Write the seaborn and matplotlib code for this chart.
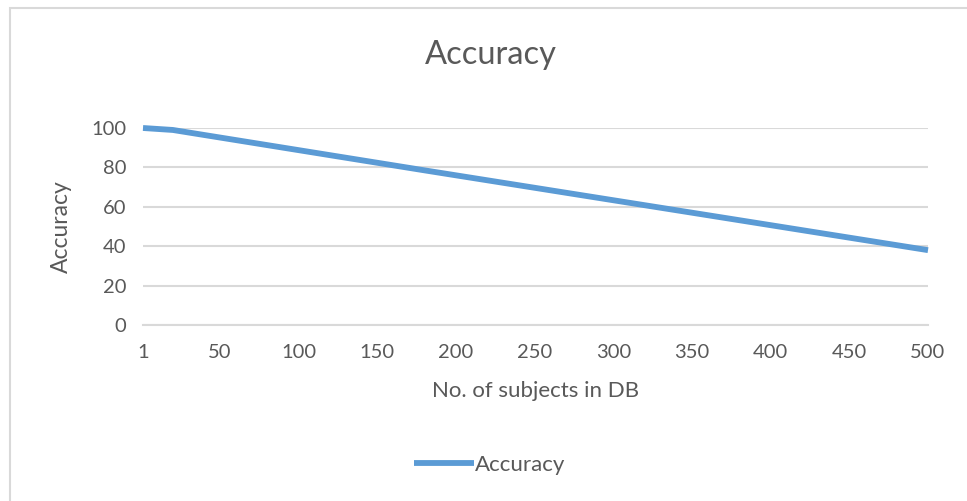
import numpy as np
import pandas as pd
import seaborn as sns
import matplotlib.pyplot as plt
from matplotlib.patches import Rectangle

# data
subjects = [1, 20, 180, 350, 500]
accuracy = [100, 99, 78.5, 57, 38]
x_ticks = [1, 50, 100, 150, 200, 250, 300, 350, 400, 450, 500]
y_ticks = [0, 20, 40, 60, 80, 100]

df = pd.DataFrame({"subjects": subjects, "Accuracy": accuracy})

sns.set_style("white")
plt.rcParams['font.family'] = ['Lato', 'DejaVu Sans']

text_col = "#595959"
grid_col = "#D9D9D9"
line_col = "#5B9BD5"

fig = plt.figure(figsize=(9.67, 5.01), dpi=100)
ax = fig.add_axes([143 / 967, 176 / 501, 785 / 967, 197 / 501])

# chart frame
fig.patches.append(Rectangle((10 / 967, -0.01), 1.0, (493 / 501) + 0.01,
                             transform=fig.transFigure, fill=False,
                             edgecolor=grid_col, linewidth=1.5))

sns.lineplot(data=df, x="subjects", y="Accuracy", ax=ax, color=line_col,
             linewidth=4.2, label="Accuracy", clip_on=False,
             solid_capstyle="butt")

ax.set_xlim(1, 500)
ax.set_ylim(0, 100)
ax.set_xticks(x_ticks)
ax.set_yticks(y_ticks)
ax.yaxis.grid(True, color=grid_col, linewidth=1.5)
ax.set_axisbelow(True)

for s in ["top", "right", "left"]:
    ax.spines[s].set_visible(False)
ax.spines["bottom"].set_color(grid_col)
ax.spines["bottom"].set_linewidth(1.5)

ax.tick_params(axis="x", direction="out", length=6, width=1.5, color=grid_col,
               labelsize=14.5, labelcolor=text_col, pad=8)
ax.tick_params(axis="y", length=0, labelsize=14.5, labelcolor=text_col, pad=12)

ax.set_xlabel("No. of subjects in DB", fontsize=16, color=text_col, labelpad=14)
ax.set_ylabel("Accuracy", fontsize=16.5, color=text_col, labelpad=14)
fig.text(491 / 967, 1 - 55 / 501, "Accuracy", ha="center", va="center",
         fontsize=23.5, color=text_col)

leg = ax.legend(loc="center", frameon=False, handlelength=2.7,
                handletextpad=0.05, fontsize=16, labelcolor=text_col)
leg.set_bbox_to_anchor((490 / 967, 1 - 465 / 501), transform=fig.transFigure)

fig.savefig("out.png", dpi=100)
